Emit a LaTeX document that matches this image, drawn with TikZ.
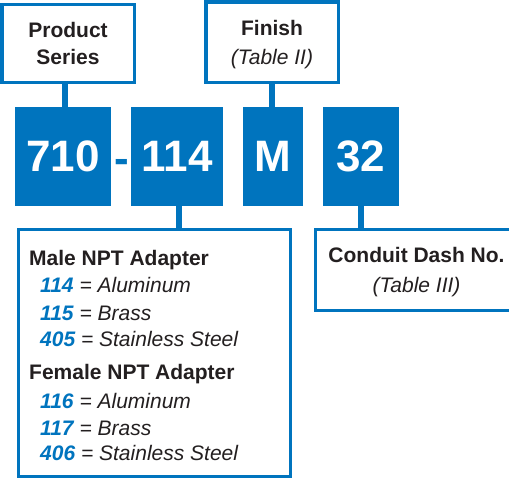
\documentclass[tikz,border=0pt]{standalone}
\usepackage{fontspec}
\setmainfont{Liberation Sans}
\usepackage{tikz}
\definecolor{partblue}{RGB}{0,116,190}
\definecolor{textgray}{RGB}{35,31,32}
\newcommand{\partcode}[1]{\textcolor{partblue}{\bfseries\itshape #1}}

\begin{document}
\begin{tikzpicture}[x=1pt,y=-1pt,
    labelbox/.style={draw=partblue, line width=3.5pt, fill=white, inner sep=0pt, align=center,
        text=textgray, font=\fontsize{21}{27}\selectfont},
    codebox/.style={fill=partblue, inner sep=0pt, text=white, font=\fontsize{44}{44}\selectfont\bfseries},
    entry/.style={anchor=base west, inner sep=0pt, text=textgray, font=\fontsize{21}{21}\selectfont},
    link/.style={draw=partblue, line width=6pt}]
            \useasboundingbox (0,0) rectangle (509,479);
            % upper labels
            \node[labelbox, minimum width=132.5pt, minimum height=78pt] (series) at (68,43.5) {\textbf{Product}\\\textbf{Series}};
            \node[labelbox, text depth=0pt, minimum width=132.5pt, minimum height=80.5pt] (finish) at (272,42) {\textbf{Finish}\\[2pt]\textit{(Table II)}};
            % part number
            \node[codebox, minimum width=96pt, minimum height=99pt] (n710) at (63,156.5) {710};
            \node[anchor=base, inner sep=0pt, text=partblue, font=\fontsize{44}{44}\selectfont\bfseries] (dash) at (122,173) {-};
            \node[codebox, minimum width=92pt, minimum height=99pt] (n114) at (177,156.5) {114};
            \node[codebox, minimum width=60pt, minimum height=99pt] (nM) at (273,156.5) {M};
            \node[codebox, minimum width=76pt, minimum height=99pt] (n32) at (361,156.5) {32};
            % lower labels
            \node[labelbox, minimum width=272pt, minimum height=247pt] (adapter) at (154.5,353) {};
            \node[labelbox, text depth=0pt, minimum width=202pt, minimum height=81pt] (conduit) at (416.5,270) {\textbf{Conduit Dash No.}\\[3pt]\textit{(Table III)}};
            % adapter list
            \node[entry] (male) at (29,265) {\textbf{Male NPT Adapter}};
            \foreach \y/\c/\m [count=\i] in {292.7/114/Aluminum, 320/115/Brass, 346.7/405/Stainless Steel}
                \node[entry] (male\i) at (40,\y) {\partcode{\c} \textit{= \m}};
            \node[entry] (female) at (29,379) {\textbf{Female NPT Adapter}};
            \foreach \y/\c/\m [count=\i] in {408/116/Aluminum, 435/117/Brass, 460.7/406/Stainless Steel}
                \node[entry] (female\i) at (40,\y) {\partcode{\c} \textit{= \m}};
            % connectors
            \draw[link] ([xshift=-3pt]series.south) -- ([xshift=-3pt]series.south |- n710.north);
            \draw[link] (finish.south) -- (finish.south |- nM.north);
            \draw[link] ([xshift=2pt]n114.south) -- ([xshift=2pt]n114.south |- adapter.north);
            \draw[link] (n32.south) -- (n32.south |- conduit.north);
\end{tikzpicture}
\end{document}
